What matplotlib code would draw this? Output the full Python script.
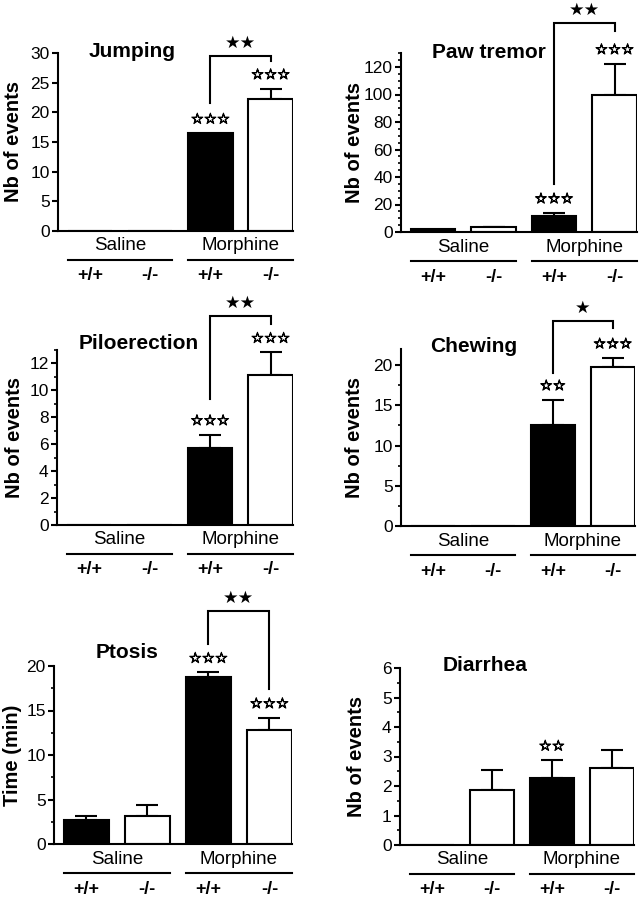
import matplotlib
matplotlib.use('Agg')
import matplotlib.pyplot as plt
from matplotlib import transforms
from matplotlib import patheffects
from matplotlib.ticker import MultipleLocator

plt.rcParams['font.family'] = ['Liberation Sans', 'DejaVu Sans']

# ---------------- data ----------------
groups = ['Saline', 'Morphine']
genotypes = ['+/+', '-/-', '+/+', '-/-']
bar_colors = ['black', 'white', 'black', 'white']

titles = ['Jumping', 'Paw tremor', 'Piloerection', 'Chewing', 'Ptosis', 'Diarrhea']
ylabels = ['Nb of events', 'Nb of events', 'Nb of events', 'Nb of events',
           'Time (min)', 'Nb of events']

jumping_mean = [0, 0, 16.5, 22.2]
jumping_sem = [0, 0, 0, 1.8]
paw_mean = [2.0, 3.5, 12.0, 100.0]
paw_sem = [0, 0.5, 2.0, 22.5]
pilo_mean = [0, 0, 5.7, 11.1]
pilo_sem = [0, 0, 1.0, 1.7]
chew_mean = [0, 0, 12.5, 19.8]
chew_sem = [0, 0, 3.2, 1.1]
ptosis_mean = [2.7, 3.2, 18.8, 12.8]
ptosis_sem = [0.5, 1.2, 0.5, 1.4]
diarrhea_mean = [0, 1.85, 2.28, 2.62]
diarrhea_sem = [0, 0.7, 0.6, 0.6]

jumping_stars = ['', '', '☆☆☆', '☆☆☆']
paw_stars = ['', '', '☆☆☆', '☆☆☆']
pilo_stars = ['', '', '☆☆☆', '☆☆☆']
chew_stars = ['', '', '☆☆', '☆☆☆']
ptosis_stars = ['', '', '☆☆☆', '☆☆☆']
diarrhea_stars = ['', '', '☆☆', '']

# bracket: (label, left-leg bottom, top, right-leg bottom) in data units
jumping_bracket = ('★★', 21.6, 29.5, 28.7)
paw_bracket = ('★★', 35, 152, 146)
pilo_bracket = ('★★', 9.3, 15.5, 14.9)
chew_bracket = ('★', 19.0, 25.5, 24.6)
ptosis_bracket = ('★★', 22.5, 26.2, 17.4)
diarrhea_bracket = None

ylims = [30, 130, 13, 22, 20, 6]
major_steps = [5, 20, 2, 5, 5, 1]
minor_steps = [None, 5, 1, 2.5, 2.5, 0.5]

means = [jumping_mean, paw_mean, pilo_mean, chew_mean, ptosis_mean, diarrhea_mean]
sems = [jumping_sem, paw_sem, pilo_sem, chew_sem, ptosis_sem, diarrhea_sem]
stars = [jumping_stars, paw_stars, pilo_stars, chew_stars, ptosis_stars, diarrhea_stars]
brackets = [jumping_bracket, paw_bracket, pilo_bracket, chew_bracket, ptosis_bracket,
            diarrhea_bracket]

# ---------------- layout (pixels) ----------------
W, H = 642, 900
# left, right, y of zero, y of top
rects_px = [(58, 293, 231, 53), (401, 637, 232, 53.25),
            (57, 293, 525, 349.5), (401, 635, 526, 349),
            (54, 292, 844, 666), (400, 634, 845, 668)]
title_px = [(89, 57), (432, 58), (79, 349), (430, 352), (96, 658), (443, 671)]
ylabel_xpx = [14, 355, 15, 355, 13, 357]

fig = plt.figure(figsize=(W / 100, H / 100), dpi=100)

x = [0, 1, 2, 3]
bw = 0.74
LW = 1.5
star_fx = [patheffects.withStroke(linewidth=0.7, foreground='black')]

for k in range(6):
    l, r, y0, yt = rects_px[k]
    ax = fig.add_axes([l / W, 1 - y0 / H, (r - l) / W, (y0 - yt) / H])
    m, s = means[k], sems[k]
    ax.bar(x, m, width=bw, color=bar_colors, edgecolor='black', linewidth=LW, zorder=2)
    ex = [xi for xi, si in zip(x, s) if si > 0]
    ey = [mi for mi, si in zip(m, s) if si > 0]
    es = [si for si in s if si > 0]
    if ex:
        ax.errorbar(ex, ey, yerr=[[0] * len(es), es], fmt='none', ecolor='black',
                    elinewidth=LW, capsize=8, capthick=LW, zorder=1)
    ax.set_xlim(-0.53, 3.37)
    ax.set_ylim(0, ylims[k])
    ax.yaxis.set_major_locator(MultipleLocator(major_steps[k]))
    if minor_steps[k]:
        ax.yaxis.set_minor_locator(MultipleLocator(minor_steps[k]))
    ax.tick_params(axis='y', which='major', direction='out', length=4, width=LW,
                   labelsize=12.5, pad=2)
    ax.tick_params(axis='y', which='minor', direction='out', length=2.5, width=1.2)
    ax.set_xticks([])
    for sp in ['top', 'right']:
        ax.spines[sp].set_visible(False)
    for sp in ['left', 'bottom']:
        ax.spines[sp].set_linewidth(LW)
    ax.set_facecolor('none')

    ax.set_ylabel(ylabels[k], fontsize=14.5, fontweight='bold', va='center')
    ax.yaxis.set_label_coords((ylabel_xpx[k] - l) / (r - l), 0.5)

    tx, ty = title_px[k]
    fig.text(tx / W, 1 - ty / H, titles[k], fontsize=15, fontweight='bold',
             ha='left', va='baseline')

    # significance stars above bars
    for xi, mi, si, st in zip(x, m, s, stars[k]):
        if st:
            ax.annotate(st, xy=(xi, mi + si), xytext=(0, 14), textcoords='offset pixels',
                        ha='center', va='center', fontsize=10.5, fontweight='bold',
                        family=['DejaVu Sans'], annotation_clip=False,
                        path_effects=star_fx)

    # bracket
    br = brackets[k]
    if br:
        lab, lb, top, rb = br
        ax.plot([2, 2, 3, 3], [lb, top, top, rb], color='black', lw=LW,
                clip_on=False, solid_joinstyle='miter')
        ax.annotate(lab, xy=(2.5, top), xytext=(0, 13), textcoords='offset pixels',
                    ha='center', va='center', fontsize=12.5, family=['DejaVu Sans'],
                    annotation_clip=False)

    # group labels and genotype labels
    blend = transforms.blended_transform_factory(ax.transData, ax.transAxes)
    line_tr = transforms.offset_copy(blend, fig=fig, x=0, y=-29, units='dots')
    for gi, g in enumerate(groups):
        cx = 2 * gi + 0.5
        ax.annotate(g, xy=(cx, 0), xycoords=blend, xytext=(0, -15),
                    textcoords='offset pixels', ha='center', va='center', fontsize=13.5,
                    annotation_clip=False)
        ax.plot([2 * gi - bw / 2, 2 * gi + 1 + bw / 2], [0, 0], color='black', lw=LW,
                transform=line_tr, clip_on=False)
    for xi, gt in zip(x, genotypes):
        ax.annotate(gt, xy=(xi, 0), xycoords=blend, xytext=(0, -45),
                    textcoords='offset pixels', ha='center', va='center', fontsize=13,
                    fontweight='bold', annotation_clip=False)

fig.savefig('out.png', dpi=100)
